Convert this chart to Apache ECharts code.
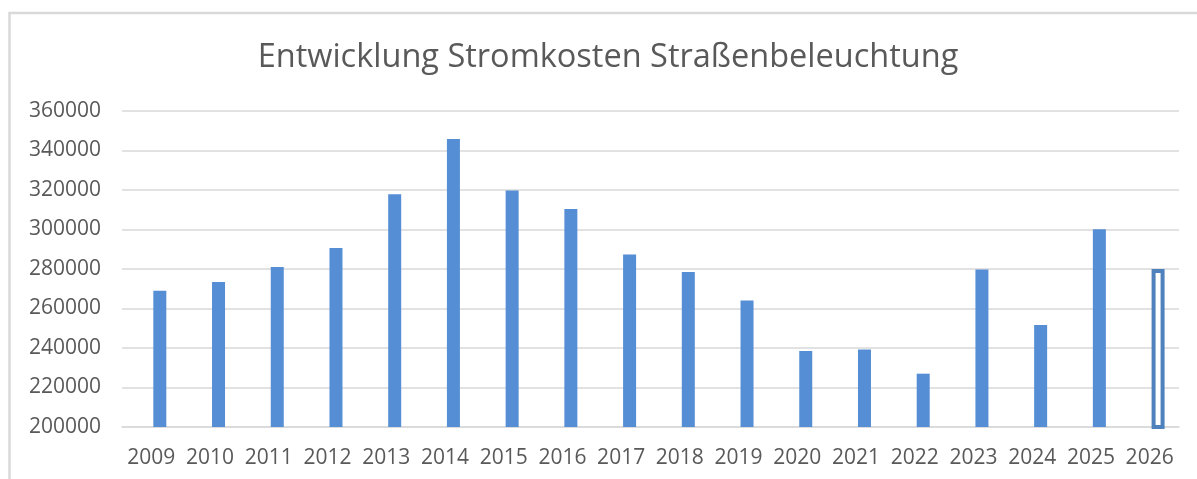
<!DOCTYPE html>
<html lang="de">
<head>
<meta charset="utf-8">
<title>Entwicklung Stromkosten Straßenbeleuchtung</title>
<script src="https://cdn.jsdelivr.net/npm/echarts@6/dist/echarts.min.js"></script>
<style>
  html, body { margin: 0; padding: 0; background: #ffffff; }
  #chart { width: 1197px; height: 479px; }
</style>
</head>
<body>
<div id="chart"></div>
<script>
// Jahre und jährliche Stromkosten der Straßenbeleuchtung (Euro)
const years = ['2009', '2010', '2011', '2012', '2013', '2014', '2015', '2016', '2017',
               '2018', '2019', '2020', '2021', '2022', '2023', '2024', '2025', '2026'];
const costs = [269000, 273400, 281000, 290600, 317800, 345800, 319800, 310400, 287400,
               278500, 264000, 238500, 239200, 227000, 279700, 251600, 300100, 280000];
// Planjahr (wird als Umriss dargestellt)
const planYear = '2026';
// Achsenbereich der Wertachse
const yMin = 200000;
const yMax = 360000;
const yStep = 20000;

const chart = echarts.init(document.getElementById('chart'), null, { renderer: 'canvas' });

const fill = '#558ED5';
const outline = '#4F81BD';
const textColor = '#595959';
const font = '"Open Sans", "Noto Sans", sans-serif';

const barData = costs.map((v, i) => years[i] === planYear
  ? { value: v, itemStyle: { color: '#ffffff', borderColor: outline, borderWidth: 4 } }
  : v);

chart.setOption({
  animation: false,
  backgroundColor: '#ffffff',
  graphic: [
    {
      type: 'rect',
      shape: { x: 9.5, y: 13, width: 1300, height: 600 },
      style: { fill: 'none', stroke: '#d9d9d9', lineWidth: 2.5 },
      silent: true
    },
    {
      type: 'text',
      x: 608,
      y: 58,
      style: {
        text: 'Entwicklung Stromkosten Straßenbeleuchtung',
        fill: textColor,
        fontFamily: font,
        fontSize: 32.5,
        textAlign: 'center',
        textVerticalAlign: 'middle'
      }
    }
  ],
  grid: { left: 122, right: 18, top: 111, bottom: 52, containLabel: false },
  xAxis: {
    type: 'category',
    data: years,
    axisLine: { show: true, lineStyle: { color: '#d9d9d9', width: 1.5 } },
    axisTick: { show: false },
    axisLabel: { color: textColor, fontFamily: font, fontSize: 21, margin: 21, interval: 0 },
    splitLine: { show: false }
  },
  yAxis: {
    type: 'value',
    min: yMin,
    max: yMax,
    interval: yStep,
    axisLine: { show: false },
    axisTick: { show: false },
    axisLabel: {
      color: textColor, fontFamily: font, fontSize: 21, margin: 21,
      formatter: (v) => String(v)
    },
    splitLine: { show: true, lineStyle: { color: '#d9d9d9', width: 1.5 } }
  },
  series: [
    {
      // leerer Platzhalter: verschiebt die Säulen innerhalb der Kategorie nach rechts
      type: 'bar',
      data: years.map(() => null),
      barWidth: 13,
      barGap: '30%',
      silent: true
    },
    {
      name: 'Stromkosten',
      type: 'bar',
      data: barData,
      barWidth: 13,
      barGap: '30%',
      itemStyle: { color: fill }
    }
  ]
});
</script>
</body>
</html>
